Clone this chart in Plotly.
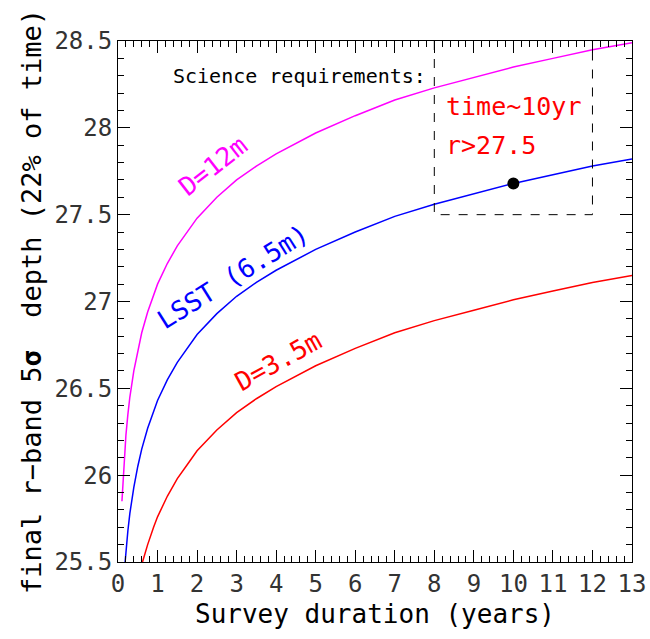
import plotly.graph_objects as go

# Values
x_12m = [0.1, 0.15, 0.2, 0.25, 0.3, 0.4, 0.5, 0.6, 0.75, 0.9, 1, 1.25, 1.5, 2, 2.5, 3, 3.5, 4, 5, 6, 7, 8, 9, 10, 11, 12, 13]
y_12m = [25.85, 26.07, 26.23, 26.35, 26.45, 26.60, 26.72, 26.82, 26.94, 27.04, 27.10, 27.22, 27.32, 27.48, 27.60,
         27.70, 27.78, 27.85, 27.97, 28.07, 28.16, 28.23, 28.29, 28.35, 28.40, 28.45, 28.49]

x_lsst = [0.18, 0.2, 0.25, 0.3, 0.4, 0.5, 0.6, 0.75, 0.9, 1, 1.25, 1.5, 2, 2.5, 3, 3.5, 4, 5, 6, 7, 8, 9, 10, 11, 12, 13]
y_lsst = [25.50, 25.56, 25.68, 25.78, 25.93, 26.05, 26.15, 26.27, 26.37, 26.43, 26.55, 26.65, 26.81, 26.93, 27.03,
          27.11, 27.18, 27.30, 27.40, 27.49, 27.56, 27.62, 27.68, 27.73, 27.78, 27.82]

x_35m = [0.62, 0.75, 0.9, 1, 1.25, 1.5, 1.75, 2, 2.5, 3, 3.5, 4, 5, 6, 7, 8, 9, 10, 11, 12, 13]
y_35m = [25.50, 25.60, 25.70, 25.76, 25.88, 25.98, 26.06, 26.14, 26.26, 26.36, 26.44, 26.51, 26.63, 26.73, 26.82,
         26.89, 26.95, 27.01, 27.06, 27.11, 27.15]

req_time = [10]
req_depth = [27.68]
box_x = [8, 8, 12, 12]
box_y = [28.5, 27.5, 27.5, 28.5]

FONT = "DejaVu Sans Mono"

fig = go.Figure()
fig.add_trace(go.Scatter(x=x_12m, y=y_12m, mode="lines", line=dict(color="#ff00ff", width=1.5)))
fig.add_trace(go.Scatter(x=x_lsst, y=y_lsst, mode="lines", line=dict(color="#0000ff", width=1.5)))
fig.add_trace(go.Scatter(x=x_35m, y=y_35m, mode="lines", line=dict(color="#ff0000", width=1.5)))
fig.add_trace(go.Scatter(x=box_x, y=box_y, mode="lines", line=dict(color="black", width=1, dash="dash")))
fig.add_trace(go.Scatter(x=req_time, y=req_depth, mode="markers", marker=dict(color="black", size=12)))

fig.add_annotation(x=4.6, y=28.3, text="Science requirements:", showarrow=False,
                   font=dict(family=FONT, size=20, color="black"))
fig.add_annotation(x=8.25, y=28.12, text="time~10yr", showarrow=False, xanchor="left",
                   font=dict(family=FONT, size=25, color="#ff0000"))
fig.add_annotation(x=8.25, y=27.9, text="r>27.5", showarrow=False, xanchor="left",
                   font=dict(family=FONT, size=25, color="#ff0000"))
fig.add_annotation(x=2.4, y=27.78, text="D=12m", showarrow=False, textangle=-38,
                   font=dict(family=FONT, size=26, color="#ff00ff"))
fig.add_annotation(x=2.9, y=27.14, text="LSST (6.5m)", showarrow=False, textangle=-32,
                   font=dict(family=FONT, size=26, color="#0000ff"))
fig.add_annotation(x=4.05, y=26.66, text="D=3.5m", showarrow=False, textangle=-29,
                   font=dict(family=FONT, size=26, color="#ff0000"))

fig.update_xaxes(range=[0, 13], dtick=1, ticks="inside", ticklen=12, tickcolor="black", showline=True,
                 linecolor="black", showgrid=False, zeroline=False, mirror="allticks", automargin=False,
                 minor=dict(dtick=0.2, ticks="inside", ticklen=6, tickcolor="black"),
                 tickfont=dict(family=FONT, size=24, color="#333"),
                 title=dict(text="Survey duration (years)", font=dict(family=FONT, size=26, color="black"),
                            standoff=8))
fig.update_yaxes(range=[25.5, 28.5], dtick=0.5, ticks="inside", ticklen=12, tickcolor="black", showline=True,
                 linecolor="black", showgrid=False, zeroline=False, mirror="allticks", automargin=False,
                 minor=dict(dtick=0.1, ticks="inside", ticklen=6, tickcolor="black"),
                 tickfont=dict(family=FONT, size=24, color="#333"),
                 title=dict(text="final r\u2212band 5<b>\u03c3</b>  depth (22% of time)",
                            font=dict(family=FONT, size=27, color="black"), standoff=4))

fig.update_layout(width=650, height=639, showlegend=False, plot_bgcolor="white", paper_bgcolor="white",
                  margin=dict(l=118, r=18, t=41, b=77, autoexpand=False))

fig.write_html("out.html")
